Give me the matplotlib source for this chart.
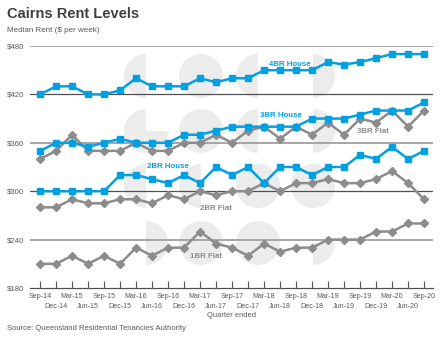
import matplotlib
matplotlib.use('Agg')
import matplotlib.pyplot as plt
from matplotlib.patches import Wedge
from matplotlib.transforms import Affine2D

plt.rcParams['font.family'] = ['Liberation Sans', 'DejaVu Sans']

# quarterly median rents, Cairns ($ per week)
quarters = ['Sep-14', 'Dec-14', 'Mar-15', 'Jun-15', 'Sep-15', 'Dec-15', 'Mar-16', 'Jun-16',
            'Sep-16', 'Dec-16', 'Mar-17', 'Jun-17', 'Sep-17', 'Dec-17', 'Mar-18', 'Jun-18',
            'Sep-18', 'Dec-18', 'Mar-19', 'Jun-19', 'Sep-19', 'Dec-19', 'Mar-20', 'Jun-20', 'Sep-20']
house_4br = [420, 430, 430, 420, 420, 425, 440, 430, 430, 430, 440, 435, 440,
             440, 450, 450, 450, 450, 460, 457, 460, 465, 470, 470, 470]
house_3br = [350, 360, 360, 355, 360, 365, 360, 360, 360, 370, 370, 375, 380,
             380, 380, 380, 380, 390, 390, 390, 395, 400, 400, 400, 410]
flat_3br = [340, 350, 370, 350, 350, 350, 360, 350, 350, 360, 360, 370, 360,
            375, 380, 365, 380, 370, 385, 370, 390, 385, 400, 380, 400]
house_2br = [300, 300, 300, 300, 300, 320, 320, 315, 310, 320, 310, 330, 320,
             330, 310, 330, 330, 320, 330, 330, 345, 340, 355, 340, 350]
flat_2br = [280, 280, 290, 285, 285, 290, 290, 285, 295, 290, 300, 295, 300,
            300, 310, 300, 310, 310, 315, 310, 310, 315, 325, 310, 290]
flat_1br = [210, 210, 220, 210, 220, 210, 230, 220, 230, 230, 250, 235, 230,
            220, 235, 225, 230, 230, 240, 240, 240, 250, 250, 260, 260]
y_ticks = [180, 240, 300, 360, 420, 480]

BLUE = '#00a0e3'
GREY = '#8c8c8c'
TEXT = '#595959'

fig = plt.figure(figsize=(4.45, 3.4), dpi=100)
ax = fig.add_axes([30 / 445, 52 / 340, 403 / 445, 242 / 340])

# faint logo watermark behind the chart (pixel coordinates, origin bottom-left)
px = Affine2D().scale(0.01) + fig.dpi_scale_trans
logo = [(146, 76, 90, 270), (201, 76, 0, 360), (258, 76, 90, 270), (313, 76, -90, 90),
        (146, 131, 90, 360), (201, 131, 0, 360), (258, 131, 90, 270), (313, 131, -90, 90),
        (146, 186, 90, 270), (201, 186, 90, 270), (258, 186, 0, 360), (313, 186, 0, 360),
        (146, 243, -90, 90), (201, 243, 0, 360), (258, 243, 0, 360), (313, 243, 270, 360)]
for cx, cy, t1, t2 in logo:
    ax.add_patch(Wedge((cx, 340 - cy), 22, t1, t2, transform=px, facecolor='#ececec',
                       edgecolor='none', zorder=0, clip_on=False))

x = list(range(len(quarters)))

for v in y_ticks[1:]:
    dark = v in (300, 420)
    ax.axhline(v, color='#505050' if dark else '#a6a6a6', lw=0.9 if dark else 1.4, zorder=1)

ax.plot(x, house_4br, color=BLUE, lw=1.8, marker='s', ms=5, zorder=3)
ax.plot(x, flat_3br, color=GREY, lw=1.8, marker='D', ms=3.8, zorder=3)
ax.plot(x, house_3br, color=BLUE, lw=1.8, marker='s', ms=5, zorder=3)
ax.plot(x, flat_2br, color=GREY, lw=1.8, marker='D', ms=3.8, zorder=3)
ax.plot(x, house_2br, color=BLUE, lw=1.8, marker='s', ms=5, zorder=3)
ax.plot(x, flat_1br, color=GREY, lw=1.8, marker='D', ms=3.8, zorder=3)

lab = dict(fontsize=5.7, fontweight='bold', ha='center', va='center', zorder=4)
ax.text(15.6, 457, '4BR House', color=BLUE, **lab)
ax.text(15.05, 394, '3BR House', color=BLUE, **lab)
ax.text(20.8, 374, '3BR Flat', color=GREY, **lab)
ax.text(8.0, 331, '2BR House', color=BLUE, **lab)
ax.text(11.0, 279, '2BR Flat', color=GREY, **lab)
ax.text(10.4, 219, '1BR Flat', color=GREY, **lab)

ax.set_xlim(-0.63, 24.56)
ax.set_ylim(180, 480)
for s in ('top', 'right', 'left'):
    ax.spines[s].set_visible(False)
ax.spines['bottom'].set_color('#505050')
ax.spines['bottom'].set_linewidth(0.9)

ax.set_yticks(y_ticks)
ax.set_yticklabels(['$%d' % v for v in y_ticks])
ax.tick_params(axis='y', length=0, pad=0, labelsize=5.6, labelcolor=TEXT)
for t in ax.get_yticklabels():
    t.set_horizontalalignment('left')
    t.set_x(-23 / 403)

# staggered quarter labels: even quarters on the first row, odd ones below
ax.set_xticks(x[::2])
ax.set_xticklabels(quarters[::2])
ax.set_xticks(x[1::2], minor=True)
ax.set_xticklabels(quarters[1::2], minor=True)
ax.tick_params(axis='x', which='both', direction='in', length=5, width=0.8,
               color='#505050', labelsize=5.1, labelcolor=TEXT)
ax.tick_params(axis='x', which='major', pad=3.5)
ax.tick_params(axis='x', which='minor', pad=11)

ax.set_xlabel('Quarter ended', fontsize=5.4, color=TEXT, labelpad=1.5)

fig.text(7 / 445, 1 - 14 / 340, 'Cairns Rent Levels', fontsize=10.5, fontweight='bold',
         color='#404040', va='center')
fig.text(7 / 445, 1 - 31 / 340, 'Median Rent ($ per week)', fontsize=5.8, color=TEXT,
         va='center')
fig.text(7 / 445, 1 - 329 / 340, 'Source: Queensland Residential Tenancies Authority',
         fontsize=5.5, color=TEXT, va='center')

fig.savefig('out.png', dpi=100)
